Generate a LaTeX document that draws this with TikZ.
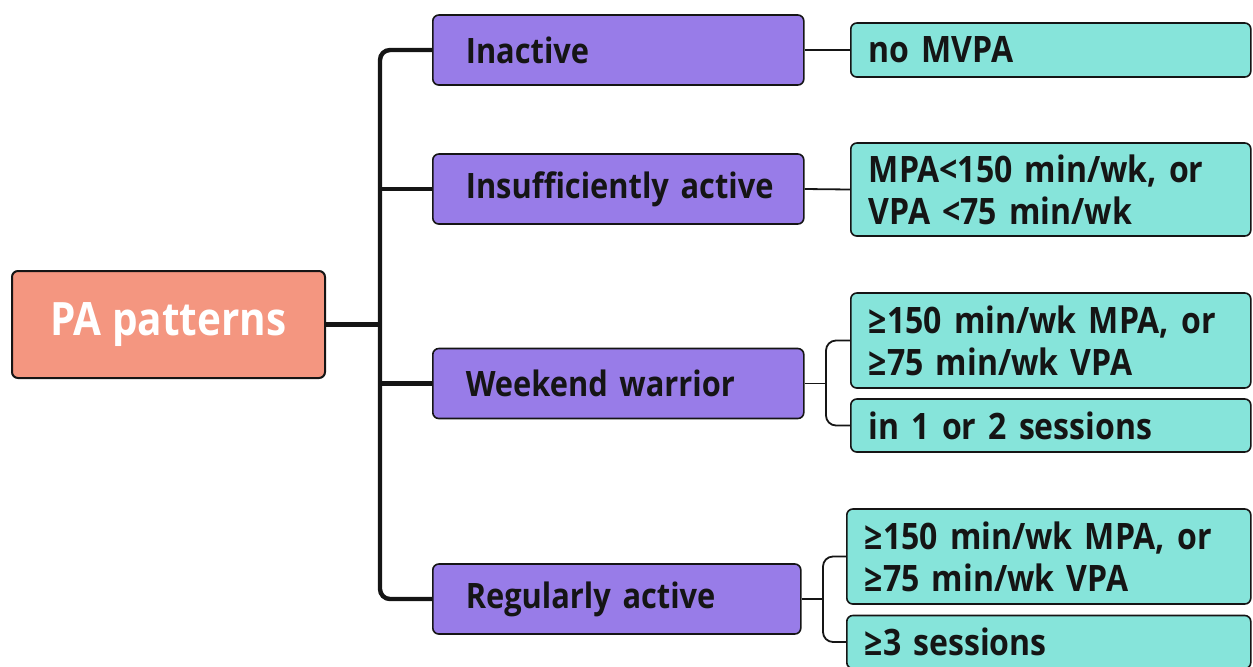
\documentclass[tikz,border=0pt]{standalone}
\usepackage{fontspec}
\setmainfont{Open Sans}[FakeStretch=0.88]
\usetikzlibrary{positioning}
\definecolor{salmon}{HTML}{F49680}
\definecolor{lavender}{HTML}{987CE8}
\definecolor{aqua}{HTML}{86E4DA}
\definecolor{ink}{HTML}{151515}

\begin{document}
\begin{tikzpicture}[x=0.5pt, y=-0.5pt,
		rootnode/.style={draw=ink, line width=1pt, rounded corners=3pt, fill=salmon, text=white,
			minimum width=156.5pt, minimum height=53.5pt, font=\bfseries\fontsize{23}{28}\selectfont},
		catnode/.style={draw=ink, line width=0.8pt, rounded corners=3pt, fill=lavender, text=ink, anchor=west,
			inner xsep=16.5pt, inner ysep=2pt, text width=152.5pt, align=left, minimum height=35pt,
			font=\bfseries\fontsize{17.5}{21}\selectfont},
		defnode/.style={draw=ink, line width=0.8pt, rounded corners=3pt, fill=aqua, text=ink, anchor=west,
			inner xsep=9pt, inner ysep=2pt, text width=182pt, align=left, minimum height=27pt,
			font=\bfseries\fontsize{18.2}{21}\selectfont},
		trunk/.style={draw=ink, line width=2.2pt, rounded corners=5pt},
		twig/.style={draw=ink, line width=0.9pt, rounded corners=5pt}
		]
		\useasboundingbox (0,0) rectangle (1253,666);
		
		\node[rootnode] (pa) at (168.5,324.5) {PA patterns};
		
		\node[catnode] (inact) at (432,50) {Inactive};
		\node[catnode] (insuf) at (432,189) {\mbox{Insufficiently active}};
		\node[catnode] (ww) at (432,383.5) {Weekend warrior};
		\node[catnode, text width=151pt] (reg) at (432,599) {Regularly active};
		
		\node[defnode] (nomv) at (850,50) {no MVPA};
		\node[defnode, minimum height=46.5pt] (lowpa) at (850,189.5) {MPA<150 min/wk, or\\VPA <75 min/wk};
		\node[defnode, minimum height=47.5pt] (ww1) at (850,340.5) {≥150 min/wk MPA, or\\≥75 min/wk VPA};
		\node[defnode, minimum height=26.5pt] (ww2) at (850,425.5) {in 1 or 2 sessions};
		\node[defnode, text width=184pt, minimum height=47.5pt] (ra1) at (846,556.5) {≥150 min/wk MPA, or\\≥75 min/wk VPA};
		\node[defnode, text width=184pt, minimum height=26.5pt] (ra2) at (846,642) {≥3 sessions};
		
		% spine from the root to the four patterns
		\coordinate (spine) at (380,0);
		\draw[trunk] (inact.west) -| (spine |- reg.west) -- (reg.west);
		\draw[trunk] (spine |- insuf.west) -- (insuf.west);
		\draw[trunk] (spine |- ww.west) -- (ww.west);
		\draw[trunk] (pa.east) -- (spine |- pa.east);
		
		% definitions
		\draw[twig] (inact.east) -- (nomv.west);
		\draw[twig] (insuf.east) -- (lowpa.west);
		\coordinate (wwfork) at (826,0);
		\draw[twig] (ww.east) -- (wwfork |- ww.east);
		\draw[twig] (ww1.west) -| (wwfork |- ww2.west) -- (ww2.west);
		\coordinate (rafork) at (823,0);
		\draw[twig] (reg.east) -- (rafork |- reg.east);
		\draw[twig] (ra1.west) -| (rafork |- ra2.west) -- (ra2.west);
	\end{tikzpicture}
\end{document}
